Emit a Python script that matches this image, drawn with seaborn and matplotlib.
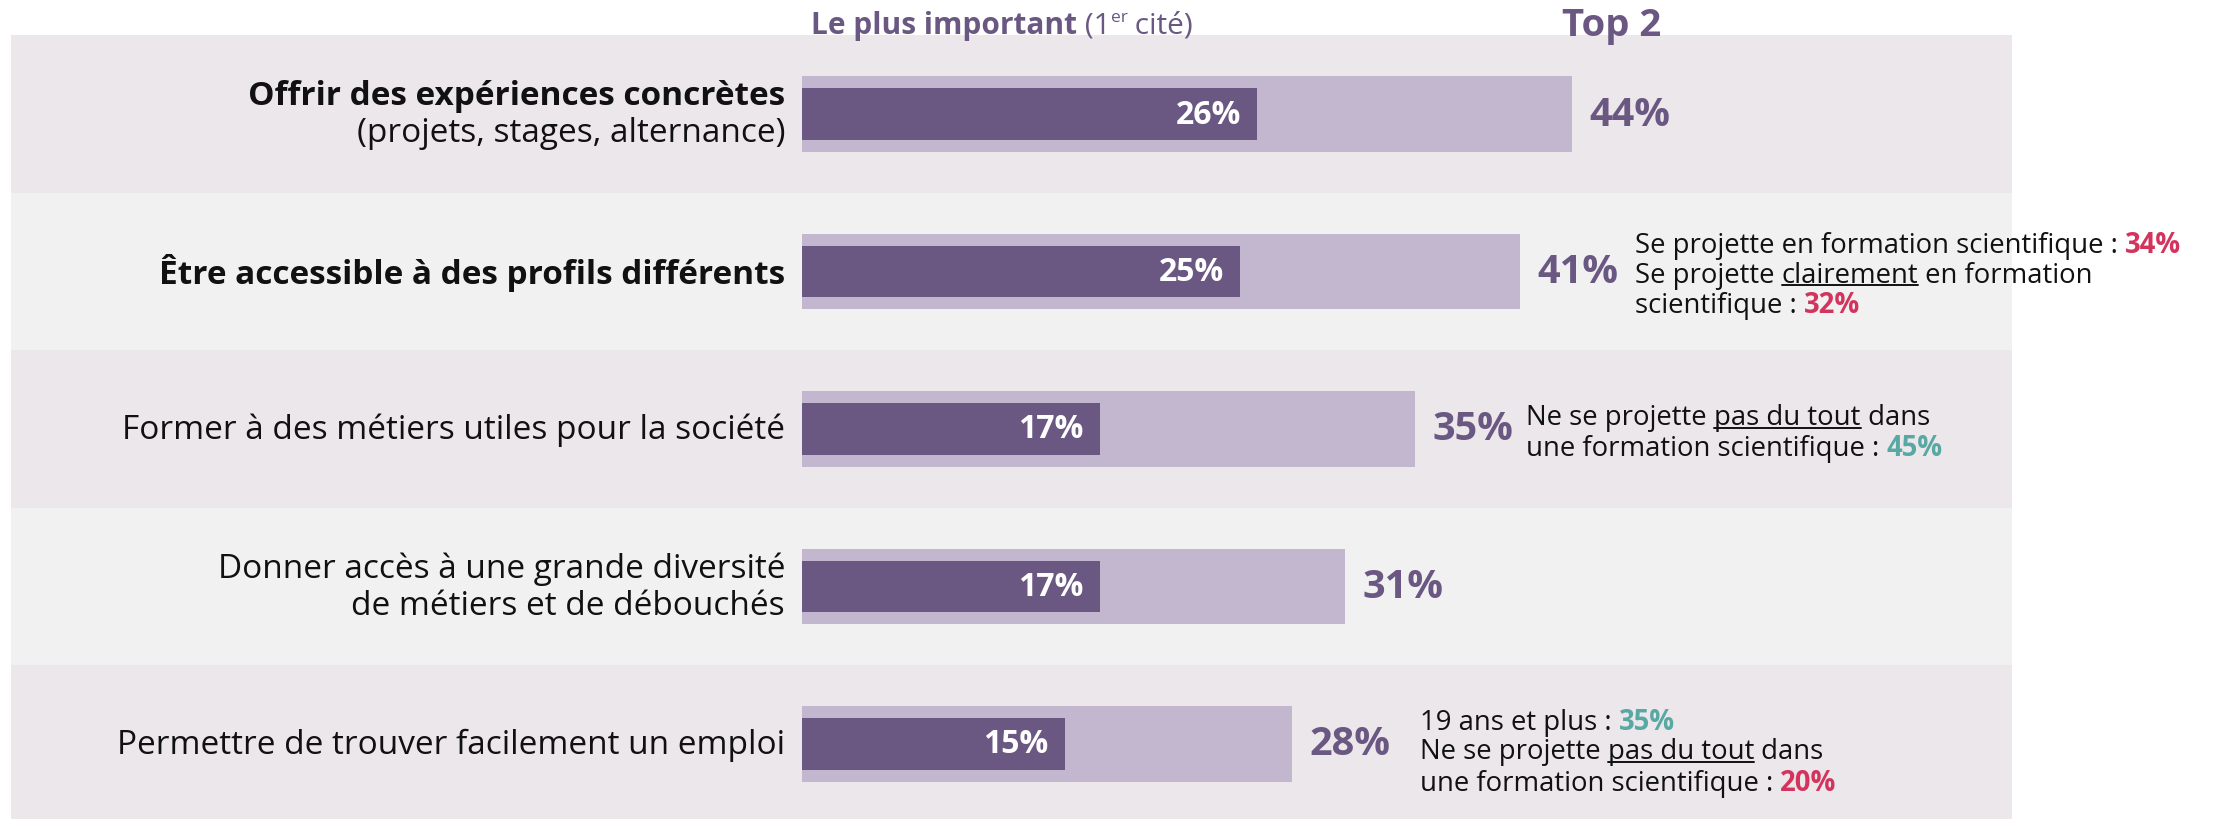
import pandas as pd
import matplotlib.pyplot as plt
import seaborn as sns
from matplotlib.lines import Line2D

# data
items = ['Offrir des expériences concrètes',
         'Être accessible à des profils différents',
         'Former à des métiers utiles pour la société',
         'Donner accès à une grande diversité de métiers et de débouchés',
         'Permettre de trouver facilement un emploi']
label_lines = [['Offrir des expériences concrètes', '(projets, stages, alternance)'],
               ['Être accessible à des profils différents'],
               ['Former à des métiers utiles pour la société'],
               ['Donner accès à une grande diversité', 'de métiers et de débouchés'],
               ['Permettre de trouver facilement un emploi']]
label_bold = [[True, False], [True], [False], [False, False], [False]]
top2 = [44, 41, 35, 31, 28]
first = [26, 25, 17, 17, 15]

DARK = '#6A5882'
LIGHT = '#C2B7CF'
BAND = ['#ECE7EB', '#F1F1F1']
RED = '#D3345E'
TEAL = '#58A8A3'
BLACK = '#111111'

df = pd.DataFrame({'item': items, 'top2': top2, 'first': first})

sns.set_theme(style='white')
plt.rcParams['font.family'] = ['Open Sans', 'DejaVu Sans']

fig = plt.figure(figsize=(22.3, 8.2), dpi=100)
ax = fig.add_axes([0, 0, 1, 1])

# background bands
for i in range(len(items)):
    ax.axhspan(i - 0.5, i + 0.5, xmin=11 / 2230, xmax=2012 / 2230,
               color=BAND[i % 2], lw=0, zorder=0)

sns.barplot(data=df, x='top2', y='item', orient='h', color=LIGHT,
            saturation=1, width=0.48, linewidth=0, ax=ax, zorder=2)
sns.barplot(data=df, x='first', y='item', orient='h', color=DARK,
            saturation=1, width=0.325, linewidth=0, ax=ax, zorder=3)

ax.set_xlim(-802 / 17.5, (2230 - 802) / 17.5)
ax.set_ylim((820 - 115) / 157.5, -115 / 157.5)
ax.axis('off')

LAB = 24
for i, (lines, bolds) in enumerate(zip(label_lines, label_bold)):
    if len(lines) == 1:
        offs = [0]
    else:
        offs = [-0.115, 0.12]
    for line, b, o in zip(lines, bolds, offs):
        ax.text(-0.97, i + o, line, ha='right', va='center', fontsize=LAB,
                fontweight='bold' if b else 'normal', color=BLACK)

for i in range(len(items)):
    ax.text(top2[i] + 1.0, i, f'{top2[i]}%', ha='left', va='center',
            fontsize=28.5, fontweight='bold', color=DARK, zorder=4)
    ax.text(first[i] - 0.9, i, f'{first[i]}%', ha='right', va='center',
            fontsize=23, fontweight='bold', color='white', zorder=4)

underlined = []


def rich_line(x, y, parts, size=19.8):
    prev = None
    for text, color, bold, ul in parts:
        kw = dict(fontsize=size, color=color, va='center', ha='left',
                  fontweight='bold' if bold else 'normal', zorder=5)
        if prev is None:
            t = ax.text(x, y, text, **kw)
        else:
            t = ax.annotate(text, xy=(1, 0.5), xycoords=prev, **kw)
        if ul:
            underlined.append(t)
        prev = t


# header
h1 = ax.text(0.5, -0.565, 'Le plus important', fontsize=21.5, fontweight='bold',
             color=DARK, va='center', ha='left')
h2 = ax.annotate(' (1', xy=(1, 0.5), xycoords=h1, fontsize=21.5, color=DARK,
                 va='center', ha='left')
h3 = ax.annotate('er', xy=(1, 0.78), xycoords=h2, fontsize=12.5, color=DARK,
                 va='center', ha='left')
ax.annotate(' cité)', xy=(1, 0.5), xycoords=(h3, h2), fontsize=21.5, color=DARK,
            va='center', ha='left')
ax.text(43.4, -0.565, 'Top 2', fontsize=27.5, fontweight='bold', color=DARK,
        va='center', ha='left')

# side notes
rich_line(47.6, 1 - 0.17, [('Se projette en formation scientifique : ', BLACK, False, False),
                           ('34%', RED, True, False)])
rich_line(47.6, 1 + 0.02, [('Se projette ', BLACK, False, False),
                           ('clairement', BLACK, False, True),
                           (' en formation', BLACK, False, False)])
rich_line(47.6, 1 + 0.21, [('scientifique : ', BLACK, False, False),
                           ('32%', RED, True, False)])

rich_line(41.4, 2 - 0.075, [('Ne se projette ', BLACK, False, False),
                            ('pas du tout', BLACK, False, True),
                            (' dans', BLACK, False, False)])
rich_line(41.4, 2 + 0.12, [('une formation scientifique : ', BLACK, False, False),
                           ('45%', TEAL, True, False)])

rich_line(35.3, 4 - 0.14, [('19 ans et plus : ', BLACK, False, False),
                           ('35%', TEAL, True, False)])
rich_line(35.3, 4 + 0.045, [('Ne se projette ', BLACK, False, False),
                            ('pas du tout', BLACK, False, True),
                            (' dans', BLACK, False, False)])
rich_line(35.3, 4 + 0.245, [('une formation scientifique : ', BLACK, False, False),
                            ('20%', RED, True, False)])

fig.canvas.draw()
inv = fig.transFigure.inverted()
for t in underlined:
    bb = t.get_window_extent()
    yy = bb.y0 + 0.12 * bb.height
    (x0, y0), (x1, _) = inv.transform([(bb.x0, yy), (bb.x1, yy)])
    fig.add_artist(Line2D([x0, x1], [y0, y0], transform=fig.transFigure,
                          color=BLACK, lw=1.4))

fig.savefig('out.png', dpi=100, facecolor='white')
